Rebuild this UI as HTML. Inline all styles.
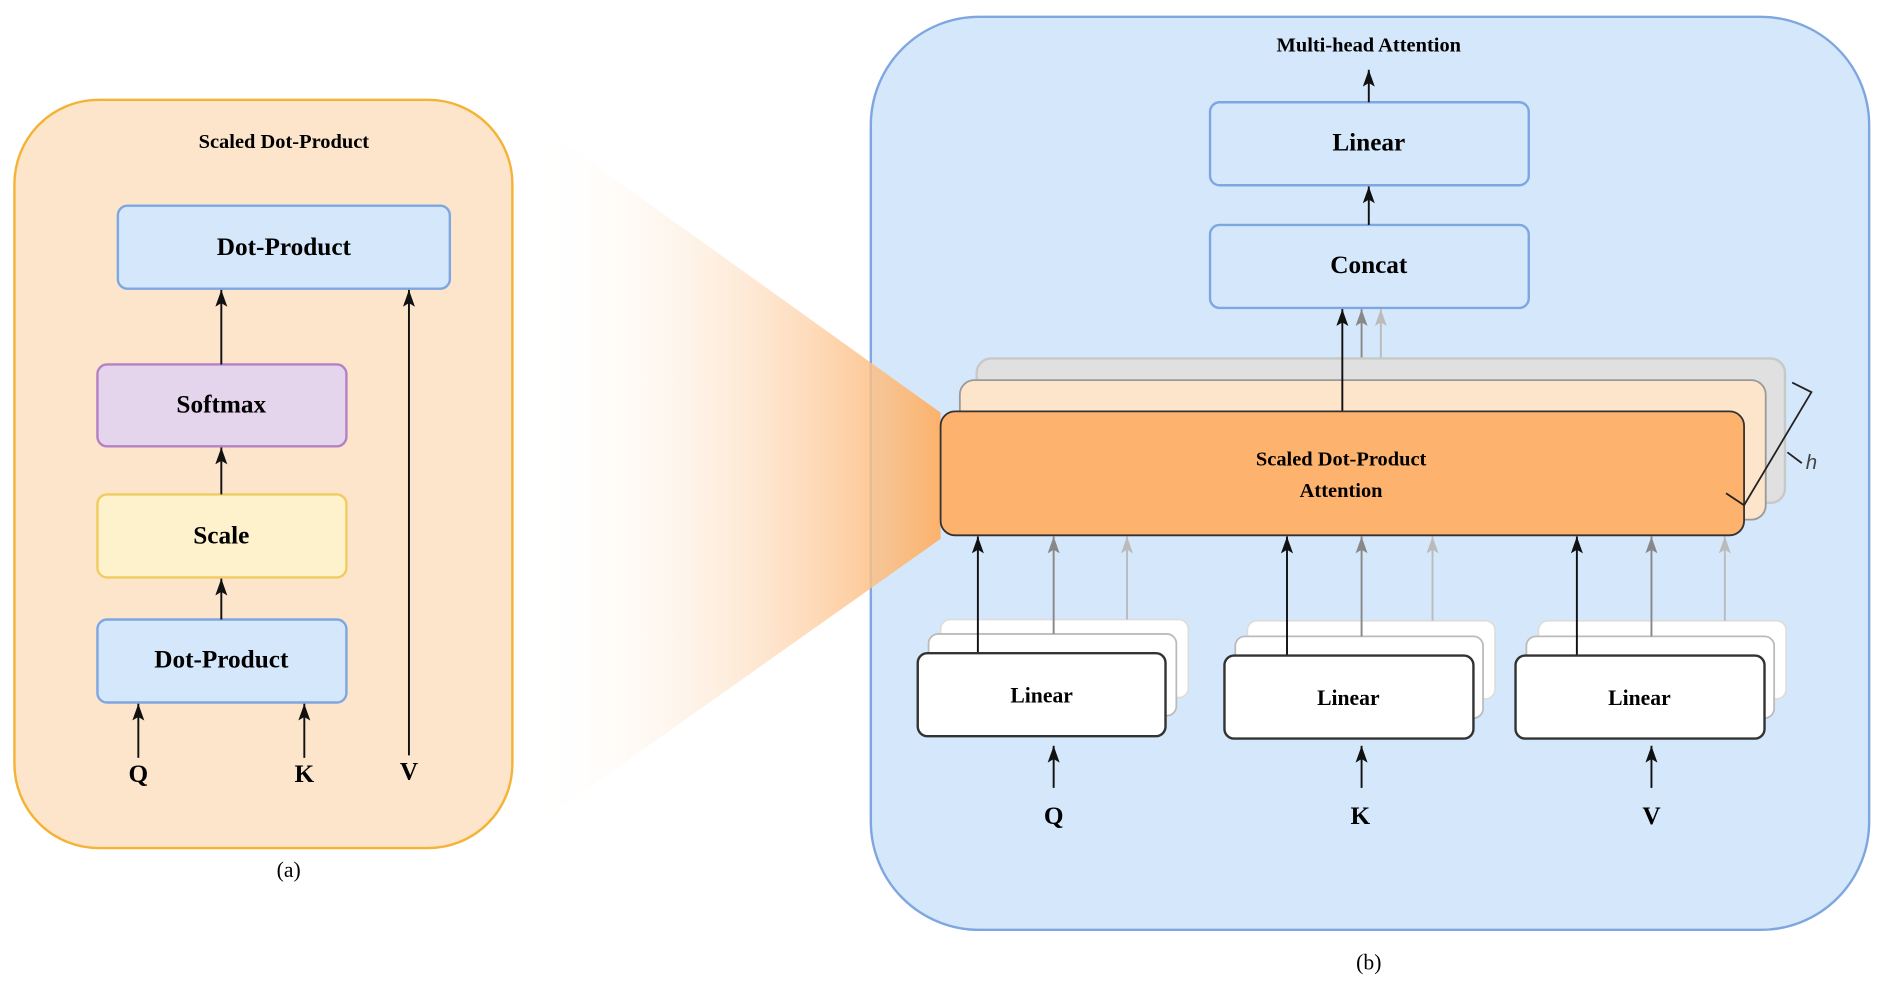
<!DOCTYPE html>
<html><head><style>html,body{margin:0;padding:0;background:#fff}svg{display:block}</style></head><body>
<svg width="1886" height="990" viewBox="0 0 1568 823" preserveAspectRatio="none" xmlns="http://www.w3.org/2000/svg" font-family="Liberation Serif, serif" font-weight="bold" text-anchor="middle">
<defs>
<marker id="ab" markerWidth="10" markerHeight="14" refX="5" refY="0" markerUnits="userSpaceOnUse" viewBox="0 0 10 14"><path d="M0,14 L5,0 L10,14 L5,11z" fill="#111"/></marker>
<marker id="ag" markerWidth="10" markerHeight="14" refX="5" refY="0" markerUnits="userSpaceOnUse" viewBox="0 0 10 14"><path d="M0,14 L5,0 L10,14 L5,11z" fill="#888"/></marker>
<marker id="al" markerWidth="10" markerHeight="14" refX="5" refY="0" markerUnits="userSpaceOnUse" viewBox="0 0 10 14"><path d="M0,14 L5,0 L10,14 L5,11z" fill="#bbb"/></marker>
<linearGradient id="fg" x1="0" x2="1" y1="0" y2="0"><stop offset="0" stop-color="#fff" stop-opacity="0"/><stop offset="1" stop-color="#fcb26c"/></linearGradient>
</defs>
<!-- left panel -->
<rect x="12" y="83" width="414" height="622" rx="70" fill="#fde5cc" stroke="#f5b335" stroke-width="2"/>
<text x="236" y="123" font-size="17">Scaled Dot-Product</text>
<rect x="98" y="171" width="276" height="69" rx="8" fill="#d5e8fb" stroke="#7ea6e0" stroke-width="2"/>
<text x="236" y="212" font-size="21">Dot-Product</text>
<rect x="81" y="303" width="207" height="68" rx="8" fill="#e4d4ec" stroke="#b482c4" stroke-width="2"/>
<text x="184" y="343" font-size="21">Softmax</text>
<rect x="81" y="411" width="207" height="69" rx="8" fill="#fdf2cc" stroke="#f0cc60" stroke-width="2"/>
<text x="184" y="452" font-size="21">Scale</text>
<rect x="81" y="515" width="207" height="69" rx="8" fill="#d5e8fb" stroke="#7ea6e0" stroke-width="2"/>
<text x="184" y="555" font-size="21">Dot-Product</text>
<g stroke="#111" stroke-width="1.6" marker-end="url(#ab)">
<line x1="184" y1="303" x2="184" y2="241"/><line x1="184" y1="411" x2="184" y2="372"/><line x1="184" y1="515" x2="184" y2="481"/>
<line x1="115" y1="630" x2="115" y2="585"/><line x1="253" y1="630" x2="253" y2="585"/><line x1="340" y1="628" x2="340" y2="241"/>
</g>
<text x="115" y="650" font-size="21">Q</text><text x="253" y="650" font-size="21">K</text><text x="340" y="648" font-size="21">V</text>
<text x="240" y="729" font-size="18" font-weight="normal">(a)</text>
<!-- right panel -->
<rect x="724" y="14" width="830" height="759" rx="90" fill="#d5e8fb" stroke="#7ea6e0" stroke-width="2"/>
<polygon points="440,98 782,343 782,448 440,690" fill="url(#fg)"/>
<text x="1138" y="43" font-size="17">Multi-head Attention</text>
<rect x="1006" y="85" width="265" height="69" rx="8" fill="#d5e8fb" stroke="#7ea6e0" stroke-width="2"/>
<text x="1138" y="125" font-size="21">Linear</text>
<rect x="1006" y="187" width="265" height="69" rx="8" fill="#d5e8fb" stroke="#7ea6e0" stroke-width="2"/>
<text x="1138" y="227" font-size="21">Concat</text>
<g stroke-width="1.6">
<line x1="1138" y1="85" x2="1138" y2="58" stroke="#111" marker-end="url(#ab)"/>
<line x1="1138" y1="187" x2="1138" y2="155" stroke="#111" marker-end="url(#ab)"/>
<line x1="1148" y1="298" x2="1148" y2="257" stroke="#bbb" marker-end="url(#al)"/>
<line x1="1132" y1="316" x2="1132" y2="257" stroke="#888" marker-end="url(#ag)"/>
</g>
<rect x="812" y="298" width="672" height="120" rx="12" fill="#e0e0e0" stroke="#c8c8c8" stroke-width="2"/>
<rect x="798" y="316" width="670" height="116" rx="12" fill="#fde5cc" stroke="#999" stroke-width="1.5"/>
<line x1="1116" y1="343" x2="1116" y2="257" stroke="#111" stroke-width="1.6" marker-end="url(#ab)"/>
<rect x="782" y="342" width="668" height="103" rx="12" fill="#fdb36d" stroke="#333" stroke-width="1.5"/>
<text x="1115" y="387" font-size="17">Scaled Dot-Product</text>
<text x="1115" y="413" font-size="17">Attention</text>
<polyline points="1490,318 1506,326 1450,420 1435,410" fill="none" stroke="#222" stroke-width="1.5"/>
<line x1="1486" y1="376" x2="1498" y2="385" stroke="#222" stroke-width="1.5"/>
<text x="1506" y="390" font-size="17" font-family="Liberation Sans, sans-serif" font-weight="normal" font-style="italic" fill="#444">h</text>
<!-- linear stacks -->
<g>
<rect x="782" y="515" width="206" height="65" rx="8" fill="#fff" stroke="#ddd" stroke-width="1.5"/>
<rect x="772" y="527" width="206" height="68" rx="8" fill="#fff" stroke="#bbb" stroke-width="1.5"/>
<rect x="1037" y="516" width="206" height="65" rx="8" fill="#fff" stroke="#ddd" stroke-width="1.5"/>
<rect x="1027" y="529" width="206" height="68" rx="8" fill="#fff" stroke="#bbb" stroke-width="1.5"/>
<rect x="1279" y="516" width="206" height="65" rx="8" fill="#fff" stroke="#ddd" stroke-width="1.5"/>
<rect x="1269" y="529" width="206" height="68" rx="8" fill="#fff" stroke="#bbb" stroke-width="1.5"/>
</g>
<g stroke-width="1.6">
<line x1="937" y1="515" x2="937" y2="446" stroke="#bbb" marker-end="url(#al)"/>
<line x1="876" y1="527" x2="876" y2="446" stroke="#888" marker-end="url(#ag)"/>
<line x1="813" y1="543" x2="813" y2="446" stroke="#111" marker-end="url(#ab)"/>
<line x1="1191" y1="516" x2="1191" y2="446" stroke="#bbb" marker-end="url(#al)"/>
<line x1="1132" y1="529" x2="1132" y2="446" stroke="#888" marker-end="url(#ag)"/>
<line x1="1070" y1="545" x2="1070" y2="446" stroke="#111" marker-end="url(#ab)"/>
<line x1="1434" y1="516" x2="1434" y2="446" stroke="#bbb" marker-end="url(#al)"/>
<line x1="1373" y1="529" x2="1373" y2="446" stroke="#888" marker-end="url(#ag)"/>
<line x1="1311" y1="545" x2="1311" y2="446" stroke="#111" marker-end="url(#ab)"/>
</g>
<rect x="763" y="543" width="206" height="69" rx="8" fill="#fff" stroke="#333" stroke-width="2"/>
<rect x="1018" y="545" width="207" height="69" rx="8" fill="#fff" stroke="#333" stroke-width="2"/>
<rect x="1260" y="545" width="207" height="69" rx="8" fill="#fff" stroke="#333" stroke-width="2"/>
<text x="866" y="584" font-size="18">Linear</text>
<text x="1121" y="586" font-size="18">Linear</text>
<text x="1363" y="586" font-size="18">Linear</text>
<g stroke="#111" stroke-width="1.6" marker-end="url(#ab)">
<line x1="876" y1="655" x2="876" y2="620"/><line x1="1132" y1="655" x2="1132" y2="620"/><line x1="1373" y1="655" x2="1373" y2="620"/>
</g>
<text x="876" y="685" font-size="21">Q</text><text x="1131" y="685" font-size="21">K</text><text x="1373" y="685" font-size="21">V</text>
<text x="1138" y="806" font-size="18" font-weight="normal">(b)</text>
</svg>
</body></html>
